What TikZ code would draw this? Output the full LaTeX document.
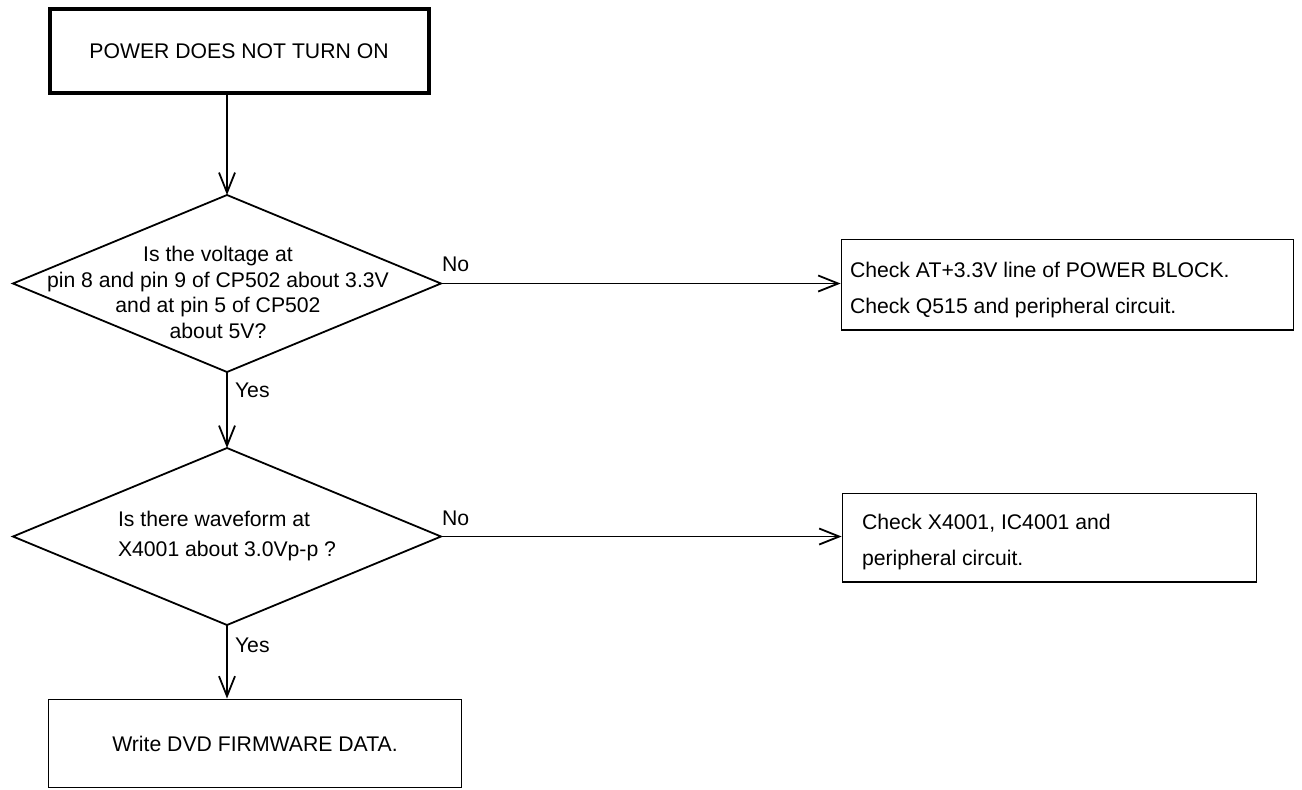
\documentclass[tikz,border=0pt]{standalone}
\usepackage{fontspec}
\setmainfont{Liberation Sans}
\usetikzlibrary{shapes.geometric,arrows.meta}
\begin{document}
\begin{tikzpicture}[x=0.75pt,y=-0.75pt,
  every node/.style={inner sep=0pt, outer sep=0pt},
  txt/.style={font=\fontsize{15.9pt}{19.1pt}\selectfont},
  startbox/.style={draw, line width=3pt, rectangle, outer sep=1.5pt, txt},
  box/.style={draw, line width=1.35pt, rectangle, outer sep=0.675pt},
  decision/.style={draw, line width=1.35pt, diamond, minimum width=321pt, minimum height=132.75pt},
  conn/.style={line width=1.35pt, -{Straight Barb[length=15pt,width=12pt]}}
]
\useasboundingbox (0,0) rectangle (1302,789);

\node[startbox, minimum width=284.25pt, minimum height=62.5pt] (start) at (239,51) {POWER DOES NOT TURN ON};

\node[decision] (d1) at (227,283.5) {};
\node[txt, anchor=north, align=center] (d1t) at (218,246.5)
  {Is the voltage at\\pin 8 and pin 9 of CP502 about 3.3V\\and at pin 5 of CP502\\about 5V?};

\node[decision] (d2) at (227,536.5) {};
\node[font=\fontsize{15.9pt}{22.5pt}\selectfont, anchor=north west, align=left] (d2t) at (118,510.8)
  {Is there waveform at\\X4001 about 3.0Vp-p ?};

\node[box, minimum width=339pt, minimum height=67.9pt] (r1) at (1067.5,284.75) {};
\node[font=\fontsize{15.9pt}{27pt}\selectfont, anchor=north west, align=left] (r1t) at (850,261.8)
  {Check AT+3.3V line of POWER BLOCK.\\Check Q515 and peripheral circuit.};

\node[box, minimum width=310.5pt, minimum height=66.4pt] (r2) at (1049.5,537.75) {};
\node[font=\fontsize{15.9pt}{27pt}\selectfont, anchor=north west, align=left] (r2t) at (862,513.8)
  {Check X4001, IC4001 and\\peripheral circuit.};

\node[box, txt, minimum width=309.75pt, minimum height=66pt] (final) at (255,743.5) {Write DVD FIRMWARE DATA.};

\draw[conn] (start.south -| d1.north) -- (d1.north);
\draw[conn] (d1.south) -- (d2.north);
\draw[conn] (d2.south) -- (d2.south |- final.north);
\draw[conn] (d1.east) -- (d1.east -| r1.west);
\draw[conn] (d2.east) -- (d2.east -| r2.west);

\node[txt, anchor=base west] (no1) at (442,271) {No};
\node[txt, anchor=base west] (no2) at (442,525) {No};
\node[txt, anchor=base west] (yes1) at (235,397) {Yes};
\node[txt, anchor=base west] (yes2) at (235,652) {Yes};
\end{tikzpicture}
\end{document}
